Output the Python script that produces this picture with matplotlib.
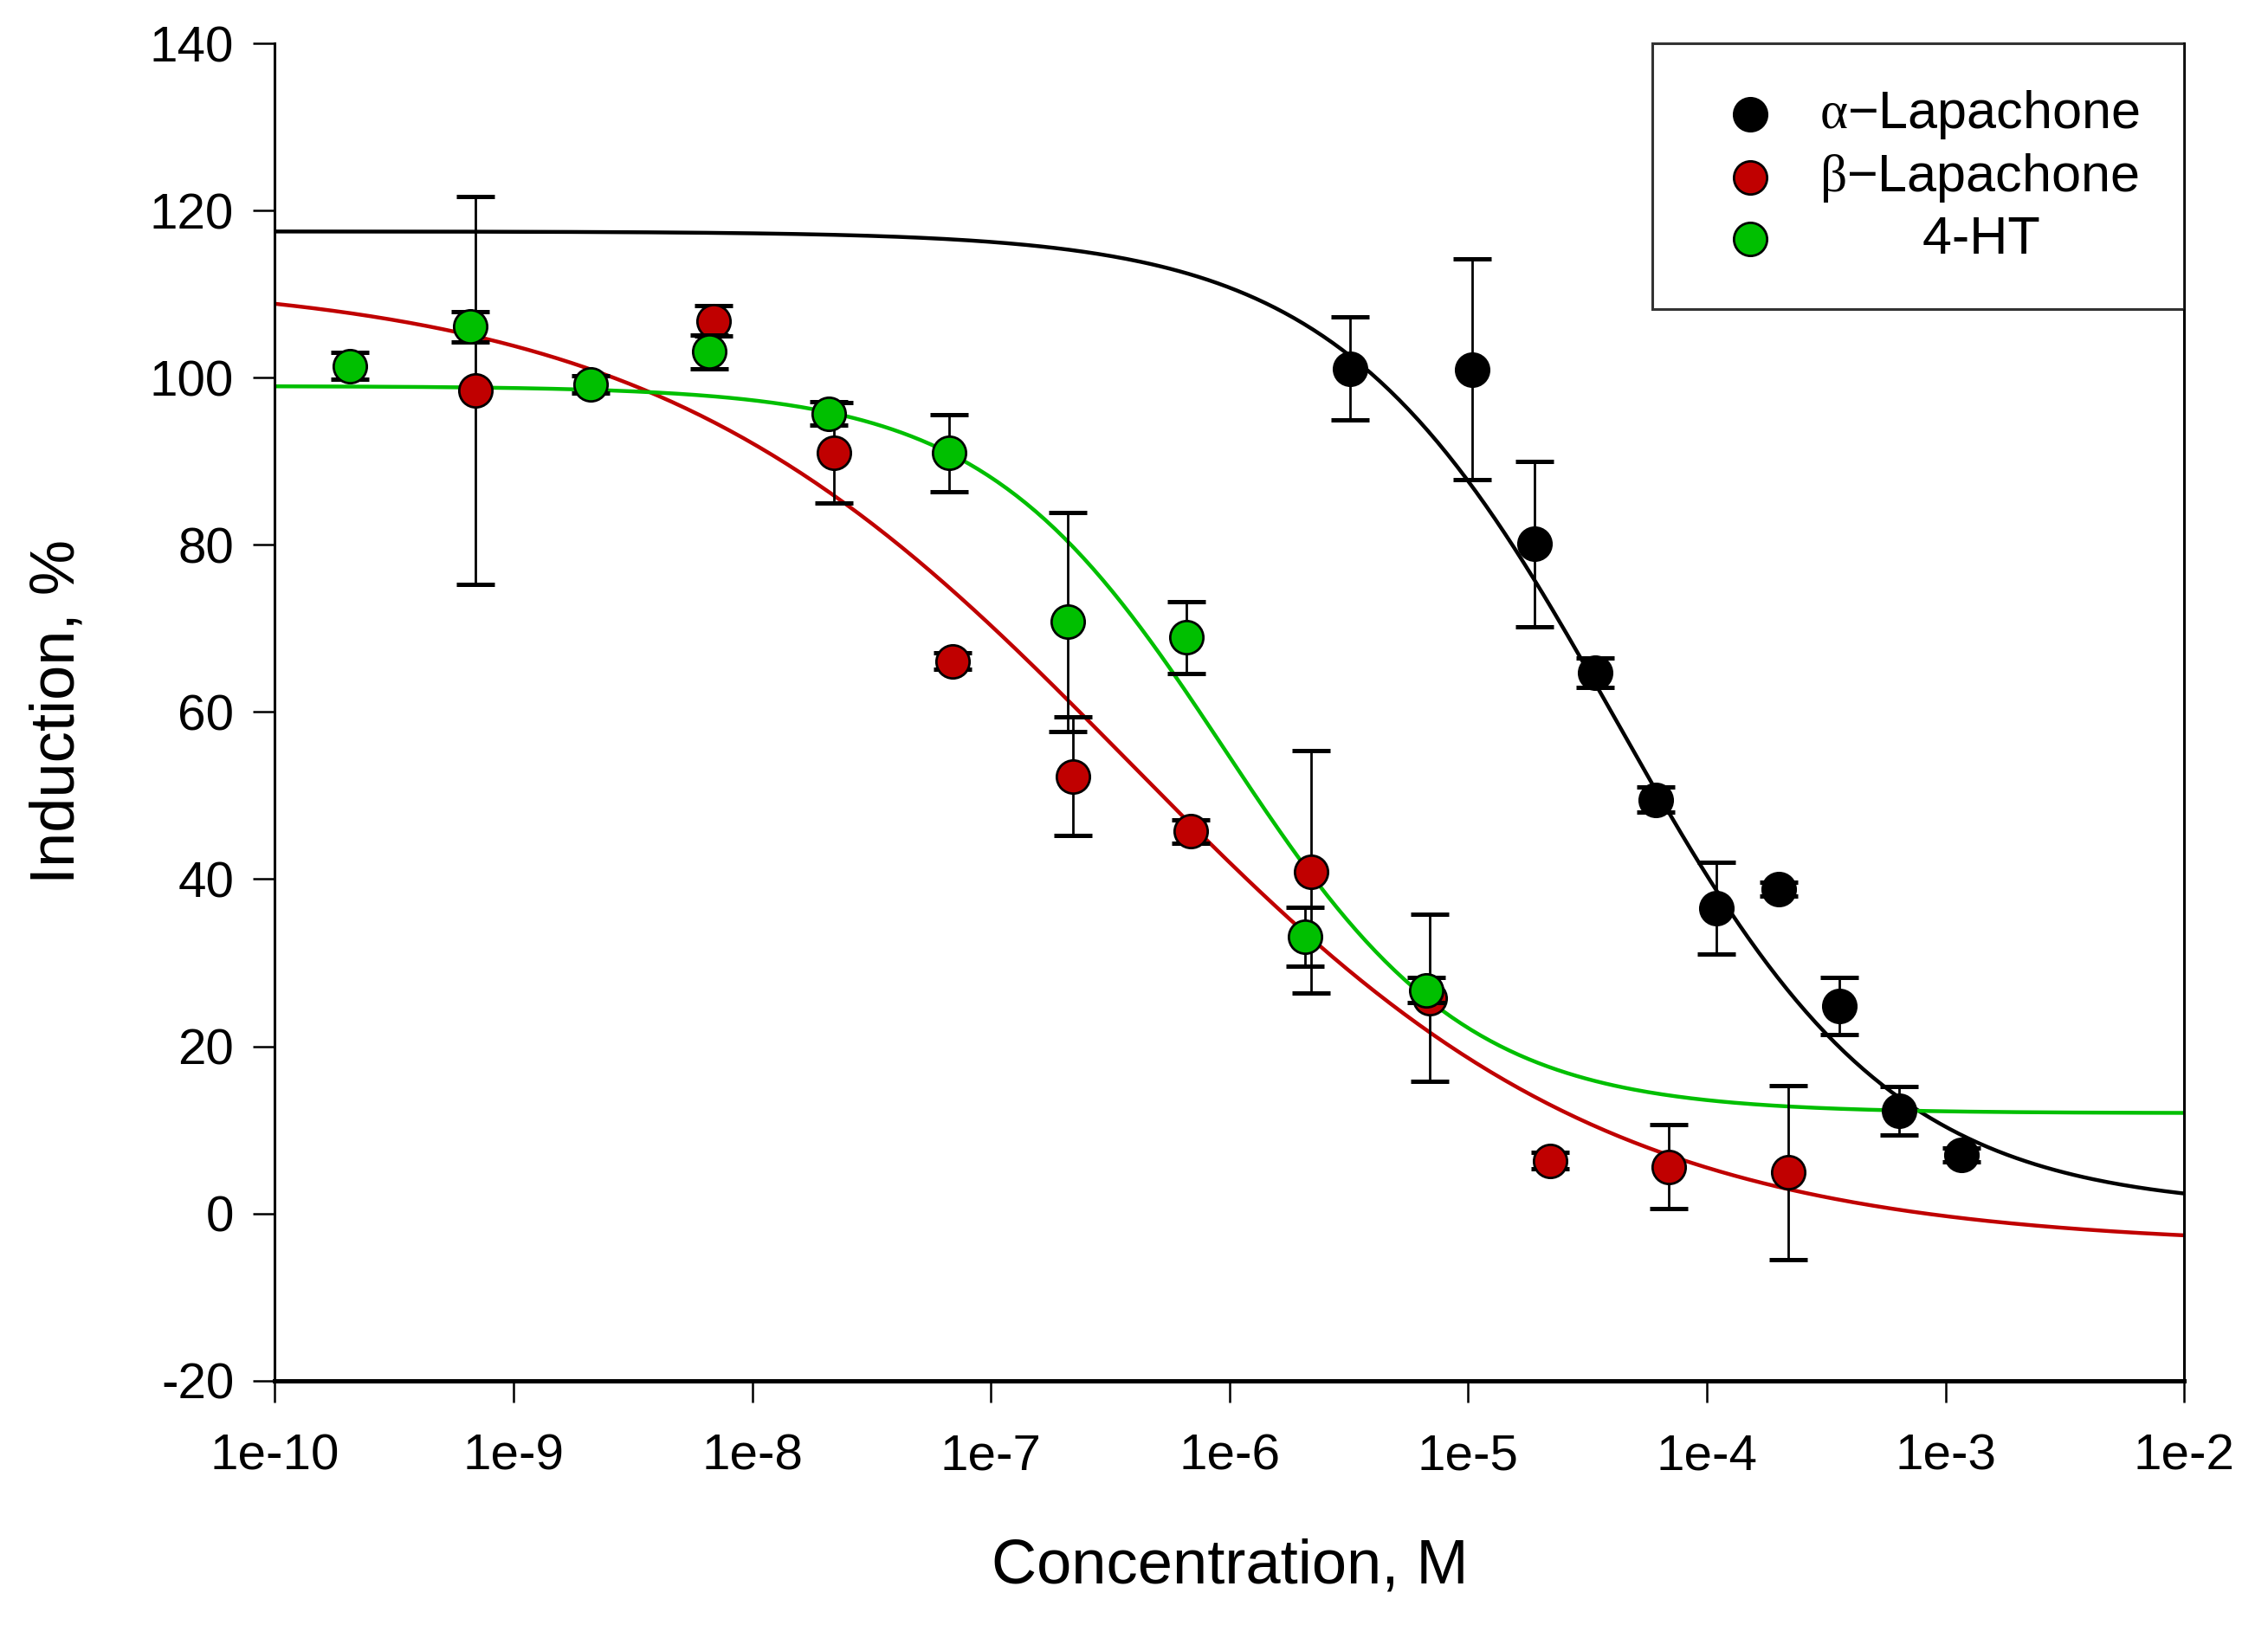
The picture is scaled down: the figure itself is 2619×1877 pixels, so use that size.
import numpy as np
import matplotlib
matplotlib.use('Agg')
import matplotlib.pyplot as plt
from matplotlib.ticker import FixedLocator, FuncFormatter


# alpha-Lapachone
alpha_conc = [3.2e-6, 1.04e-5, 1.9e-5, 3.4e-5, 6.1e-5, 1.1e-4, 2.0e-4, 3.6e-4, 6.4e-4, 1.17e-3]
alpha_resp = [101.1, 101.0, 80.1, 64.7, 49.5, 36.5, 38.8, 24.8, 12.3, 7.0]
alpha_err = [6.2, 13.2, 9.9, 1.8, 1.5, 5.5, 0.8, 3.4, 2.9, 0.8]

# beta-Lapachone
beta_conc = [6.9e-10, 6.9e-9, 2.2e-8, 6.9e-8, 2.2e-7, 6.9e-7, 2.2e-6, 6.9e-6, 2.2e-5, 6.9e-5, 2.2e-4]
beta_resp = [98.5, 106.8, 91.0, 66.1, 52.3, 45.7, 40.9, 25.8, 6.3, 5.6, 4.9]
beta_err = [23.2, 1.8, 6.0, 1.0, 7.1, 1.4, 14.5, 10.0, 1.0, 5.0, 10.4]

# 4-HT
ht_conc = [2.07e-10, 6.6e-10, 2.1e-9, 6.6e-9, 2.1e-8, 6.7e-8, 2.1e-7, 6.6e-7, 2.07e-6, 6.7e-6]
ht_resp = [101.4, 106.1, 99.2, 103.1, 95.7, 91.0, 70.8, 68.9, 33.1, 26.7]
ht_err = [1.6, 1.8, 1.0, 2.0, 1.4, 4.6, 13.1, 4.3, 3.5, 1.5]

# 4 parameter logistic fits: top, bottom, log EC50, hill slope
alpha_fit = [117.5, 0.5, -4.38, 0.75]
beta_fit = [112.0, -4.0, -6.42, 0.434]
ht_fit = [99.0, 12.0, -6.02, 0.86]

labels = ['$\\mathrm{\\alpha}$\u2212Lapachone', '$\\mathrm{\\beta}$\u2212Lapachone', '       4-HT']
colors = ['#000000', '#c00000', '#00bf00']
x_ticks = [1e-10, 1e-9, 1e-8, 1e-7, 1e-6, 1e-5, 1e-4, 1e-3, 1e-2]
y_ticks = [-20, 0, 20, 40, 60, 80, 100, 120, 140]


def logistic(x, p):
  top, bottom, logec50, hill = p
  return bottom + (top - bottom) / (1 + 10 ** ((np.log10(x) - logec50) * hill))


def main():
  plt.rcParams['font.family'] = ['Liberation Sans', 'DejaVu Sans']
  plt.rcParams['mathtext.fontset'] = 'custom'
  plt.rcParams['mathtext.rm'] = 'Liberation Serif'
  plt.rcParams['mathtext.it'] = 'Liberation Serif:italic'
  plt.rcParams['axes.unicode_minus'] = False

  fig = plt.figure(figsize=(13.095, 9.385), dpi=200)
  ax = fig.add_axes([0.1212, 0.1504, 0.963 - 0.1212, 0.9733 - 0.1504])

  xs = np.logspace(-10, -2, 400)
  series = [
    (alpha_conc, alpha_resp, alpha_err, alpha_fit),
    (beta_conc, beta_resp, beta_err, beta_fit),
    (ht_conc, ht_resp, ht_err, ht_fit),
  ]

  ####################################
  # fitted curves
  for (conc, resp, err, fit), c in zip(series, colors):
    ax.plot(xs, logistic(xs, fit), color=c, lw=1.6, zorder=2)

  ####################################
  # points with error bars
  handles = []
  for i, ((conc, resp, err, fit), c) in enumerate(zip(series, colors)):
    ax.errorbar(conc, resp, yerr=err, fmt='none', ecolor='black', elinewidth=1.0,
                capsize=8, capthick=1.8, zorder=3 + i)
    h = ax.scatter(conc, resp, s=190, c=c, edgecolors='black', linewidths=1.0, zorder=3.5 + i)
    handles.append(h)

  ax.set_xscale('log')
  ax.set_xlim(1e-10, 1e-2)
  ax.set_ylim(-20, 140)
  ax.xaxis.set_major_locator(FixedLocator(x_ticks))
  ax.xaxis.set_minor_locator(FixedLocator([]))
  ax.xaxis.set_major_formatter(FuncFormatter(lambda v, pos: '1e%d' % round(np.log10(v))))
  ax.set_yticks(y_ticks)

  ax.tick_params(axis='both', which='major', direction='out', length=9, width=0.9,
                 labelsize=21, colors='black')
  ax.tick_params(axis='x', pad=13)
  ax.tick_params(axis='y', pad=8)
  ax.spines['top'].set_visible(False)
  ax.spines['left'].set_linewidth(1.1)
  ax.spines['bottom'].set_linewidth(1.8)
  ax.spines['right'].set_linewidth(1.1)

  ax.set_xlabel('Concentration, M', fontsize=26, labelpad=24)
  ax.set_ylabel('Induction, %', fontsize=26, labelpad=26)

  leg = ax.legend(handles, labels, loc='upper right', bbox_to_anchor=(1.0, 1.0),
                  borderaxespad=0, fontsize=22, frameon=True, fancybox=False,
                  edgecolor='black', borderpad=0.85, handletextpad=0.3,
                  labelspacing=0.2, handlelength=2.0, markerscale=1.0)
  leg.get_frame().set_linewidth(1.1)

  fig.savefig('out.png', dpi=200, facecolor='white')


if __name__ == '__main__':
  main()
